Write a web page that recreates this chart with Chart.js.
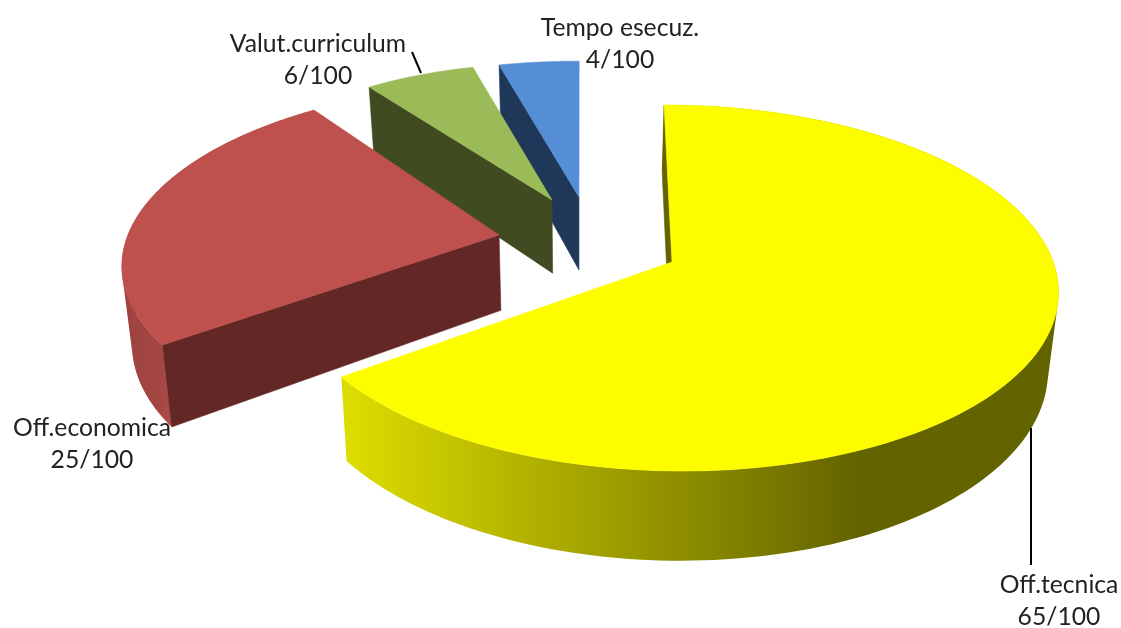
<!DOCTYPE html>
<html><head><meta charset="utf-8">
<style>html,body{margin:0;padding:0;background:#fff}canvas{display:block}</style>
<script src="https://cdn.jsdelivr.net/npm/chart.js@4/dist/chart.umd.min.js"></script>
</head><body>
<canvas id="c" width="1121" height="628"></canvas>
<script>
const categories = ['Off.tecnica', 'Off.economica', 'Valut.curriculum', 'Tempo esecuz.'];
const scores = [65, 25, 6, 4];
const scoreMax = 100;
const topColors = ['#fdfd00', '#be504e', '#9bbb59', '#558ed5'];
const wallColors = ['#636300', '#632826', '#404b21', '#1f3759'];

// 3D view of the pie plane
const view = { vx: 608, ox: 64, oy: 262, rx: 387, ry: 179.3, k: 0.142, depth: 77, driftX: 580, drift: 0.022 };
const explode = [[0, 0], [-0.453, -0.1539], [-0.3176, -0.3637], [-0.2445, -0.3822]];
const radiusX = [0.985, 0.98, 0.913, 0.985];
const radiusY = [1, 1, 0.95, 0.95];
const skewPx = [0, 0, 12, 3.3];
const rimStops = [
  [350, 1060, [[0, '#dcdc00'], [0.72, '#636300'], [1, '#636300']]],
  [125, 172, [[0, '#9e4341'], [0.7, '#a34644'], [1, '#b04b49']]],
  null,
  null
];
const labelPos = [[1059, 585], [92, 428], [318, 44], [620, 28]];
const leaders = [[[1031, 428], [1031, 565]], null, [[412, 52], [421, 73]], null];

function top3d(X, Y, sk, ey) {
  const s = 1 / (1 - view.k * Y);
  return [view.vx + (view.ox + view.rx * X) * s + sk * (Y - ey), view.oy + view.ry * Y * s, s];
}
function bottom3d(p) {
  return [p[0] + (view.driftX - p[0]) * view.drift, p[1] + view.depth * p[2]];
}
function addPoly(ctx, pts) {
  pts.forEach((p, i) => i ? ctx.lineTo(p[0], p[1]) : ctx.moveTo(p[0], p[1]));
  ctx.closePath();
}
function finish(ctx, fill) {
  ctx.fillStyle = fill;
  ctx.fill();
  ctx.strokeStyle = fill;
  ctx.lineWidth = 0.6;
  ctx.stroke();
}
function poly(ctx, pts, fill) {
  ctx.beginPath();
  addPoly(ctx, pts);
  finish(ctx, fill);
}
function area(q) {
  let a = 0;
  q.forEach((p, i) => { const r = q[(i + 1) % q.length]; a += p[0] * r[1] - r[0] * p[1]; });
  return a;
}

const pie3d = {
  id: 'pie3d',
  beforeDatasetDraw(chart) {
    const ctx = chart.ctx;
    const arcs = chart.getDatasetMeta(0).data;
    for (let i = arcs.length - 1; i >= 0; i--) {
      const a0 = arcs[i].startAngle, a1 = arcs[i].endAngle;
      const [ex, ey] = explode[i];
      const pt = a => top3d(ex + radiusX[i] * Math.cos(a), ey + radiusY[i] * Math.sin(a), skewPx[i], ey);
      const rimT = [], rimB = [];
      const n = 160;
      for (let j = 0; j <= n; j++) {
        const p = pt(a0 + (a1 - a0) * j / n);
        rimT.push(p);
        rimB.push(bottom3d(p));
      }
      // outer wall: one path of same-wound quads, so there are no seams
      if (rimStops[i]) {
        const [x0, x1, stops] = rimStops[i];
        const g = ctx.createLinearGradient(x0, 0, x1, 0);
        stops.forEach(s => g.addColorStop(s[0], s[1]));
        ctx.beginPath();
        for (let j = 0; j < n; j++) {
          const q = [rimT[j], rimT[j + 1], rimB[j + 1], rimB[j]];
          addPoly(ctx, area(q) < 0 ? q.reverse() : q);
        }
        ctx.fillStyle = g;
        ctx.fill();
      }
      // cut wall at the start edge
      const apex = top3d(ex, ey, skewPx[i], ey);
      poly(ctx, [apex, rimT[0], rimB[0], bottom3d(apex)], wallColors[i]);
      // top face
      poly(ctx, [apex].concat(rimT), arcs[i].options.backgroundColor);
    }
    return false;
  },
  afterDraw(chart) {
    const ctx = chart.ctx;
    ctx.save();
    ctx.strokeStyle = '#000';
    ctx.lineWidth = 2;
    leaders.forEach(l => {
      if (!l) return;
      ctx.beginPath();
      ctx.moveTo(l[0][0], l[0][1]);
      ctx.lineTo(l[1][0], l[1][1]);
      ctx.stroke();
    });
    ctx.fillStyle = '#222';
    ctx.font = '24.7px Lato';
    ctx.textAlign = 'center';
    ctx.textBaseline = 'middle';
    categories.forEach((c, i) => {
      ctx.fillText(c, labelPos[i][0], labelPos[i][1]);
      ctx.fillText(scores[i] + '/' + scoreMax, labelPos[i][0], labelPos[i][1] + 32);
    });
    ctx.restore();
  }
};

new Chart(document.getElementById('c'), {
  type: 'pie',
  data: { labels: categories, datasets: [{ data: scores, backgroundColor: topColors, borderWidth: 0 }] },
  options: {
    responsive: false,
    animation: false,
    plugins: { legend: { display: false }, tooltip: { enabled: false } }
  },
  plugins: [pie3d]
});
</script>
</body></html>
